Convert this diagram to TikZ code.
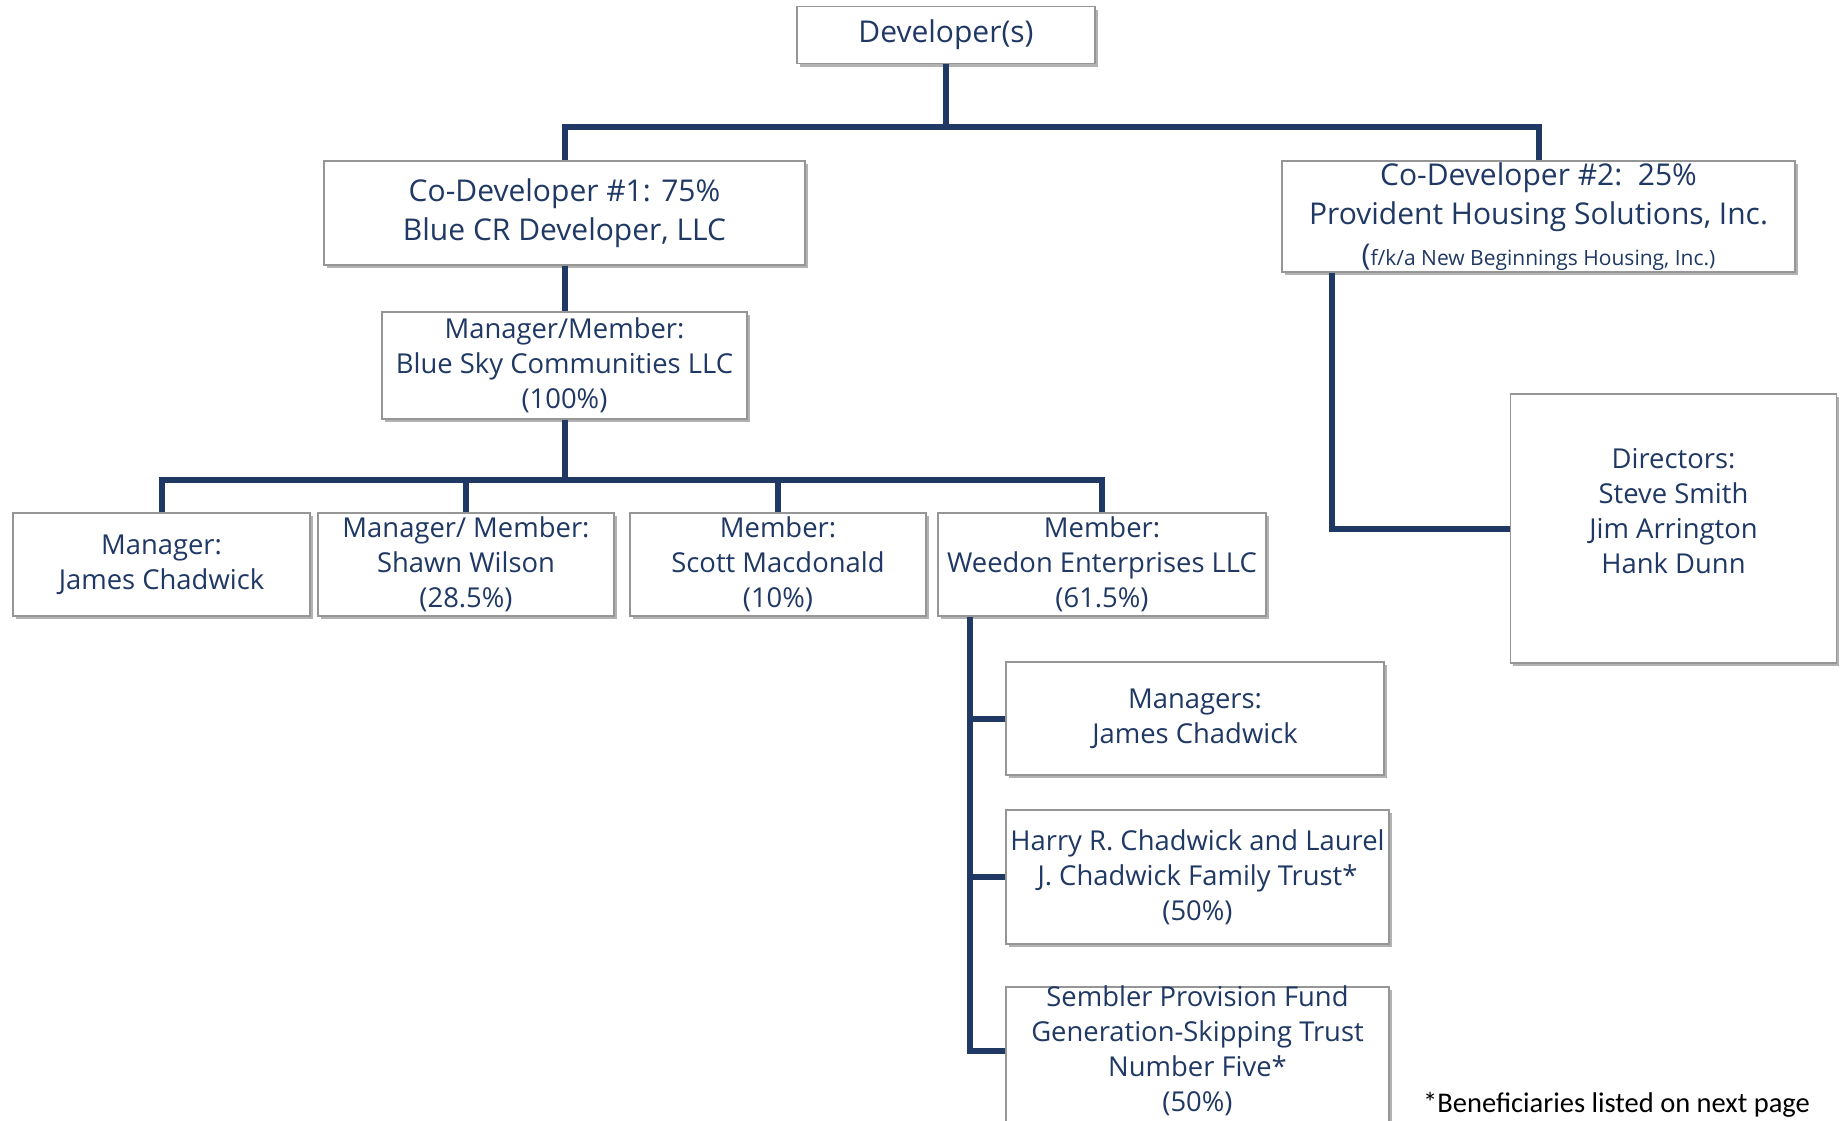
\documentclass[tikz,border=0pt]{standalone}
\usepackage{fontspec}
\setmainfont{Open Sans}
\newfontfamily\notefont{Carlito}
\usetikzlibrary{calc,shadows}
\definecolor{navy}{RGB}{31,56,100}
\definecolor{boxline}{RGB}{150,150,150}
\tikzset{
  box/.style={draw=boxline, line width=1.2pt, fill=white, align=center, text=navy, inner sep=1pt,
    font=\fontsize{27.4pt}{35pt}\selectfont,
    drop shadow={shadow xshift=2.5pt, shadow yshift=-3pt, fill=black, opacity=.3}},
  bigbox/.style={box, font=\fontsize{30pt}{39pt}\selectfont},
  boxtext/.style={text=navy, align=center, font=\fontsize{27.4pt}{35pt}\selectfont},
  link/.style={draw=navy, line width=6pt},
}
\begin{document}
\begin{tikzpicture}[x=1pt,y=-1pt]
  \clip (0,0) rectangle (1841,1120);

  % Draw top levels
  \node[bigbox, minimum width=298pt, minimum height=57pt] (dev) at (946,35) {Developer(s)};
  \node[bigbox, minimum width=481pt, minimum height=104pt] (cod1) at (564.5,213)
    {Co-Developer \#1: 75\%\\Blue CR Developer, LLC};
  \node[bigbox, minimum width=513pt, minimum height=111pt] (cod2) at (1538.5,216.5)
    {Co-Developer \#2:\ \ 25\%\\Provident Housing Solutions, Inc.\\[2pt]
     {\fontsize{21pt}{25pt}\selectfont{\fontsize{30pt}{30pt}\selectfont(}f/k/a New Beginnings Housing, Inc.)}};
  \node[box, minimum width=365pt, minimum height=107pt] (bsc) at (564.5,365.5)
    {Manager/Member:\\Blue Sky Communities LLC\\(100\%)};

  % Draw members row
  \node[box, minimum width=297pt, minimum height=103pt] (jc) at (161.5,564.5) {Manager:\\James Chadwick};
  \node[box, minimum width=296pt, minimum height=103pt] (sw) at (466,564.5) {Manager/ Member:\\Shawn Wilson\\(28.5\%)};
  \node[box, minimum width=296pt, minimum height=103pt] (sm) at (778,564.5) {Member:\\Scott Macdonald\\(10\%)};
  \node[box, minimum width=328pt, minimum height=103pt] (we) at (1102,564.5) {Member:\\Weedon Enterprises LLC\\(61.5\%)};

  % Directors box
  \node[box, minimum width=326pt, minimum height=269pt] (dir) at (1673.5,528.5) {};
  \node[boxtext] (dirtext) at ([yshift=17.5pt]dir.center)
    {Directors:\\Steve Smith\\Jim Arrington\\Hank Dunn};

  % Weedon members
  \node[box, minimum width=378pt, minimum height=113pt] (wm) at (1195,718.5) {Managers:\\James Chadwick};
  \node[box, minimum width=383pt, minimum height=134pt] (ht) at (1197.5,877)
    {Harry R. Chadwick and Laurel\\J. Chadwick Family Trust*\\(50\%)};
  \node[box, minimum width=383pt, minimum height=142pt] (sp) at (1197.5,1058) {};
  \node[boxtext] (sptext) at (1197.5,1051)
    {Sembler Provision Fund\\Generation-Skipping Trust\\Number Five*\\(50\%)};

  \node[anchor=base west, inner sep=0pt, font=\notefont\fontsize{28.5pt}{32pt}\selectfont] (note) at (1423,1112)
    {*Beneficiaries listed on next page};

  % Draw connectors
  \coordinate (hub) at (946,127);
  \draw[link] (dev.south) -- (hub);
  \draw[link] (cod1.north) |- (hub) -| (cod2.north);
  \draw[link] (cod1.south) -- (bsc.north);
  \coordinate (hub2) at (564.5,480);
  \draw[link] (bsc.south) -- (hub2);
  \foreach \n in {jc,sw,sm,we}
    \draw[link] (\n.north) |- (hub2);
  \draw[link] ($(cod2.south west)+(51,0)$) |- (dir.west);
  \coordinate (trunk) at ($(we.south west)+(33,0)$);
  \draw[link] (trunk) |- (sptext.west -| sp.west);
  \foreach \n in {wm,ht}
    \draw[link] (trunk |- \n.west) -- (\n.west);
\end{tikzpicture}
\end{document}
